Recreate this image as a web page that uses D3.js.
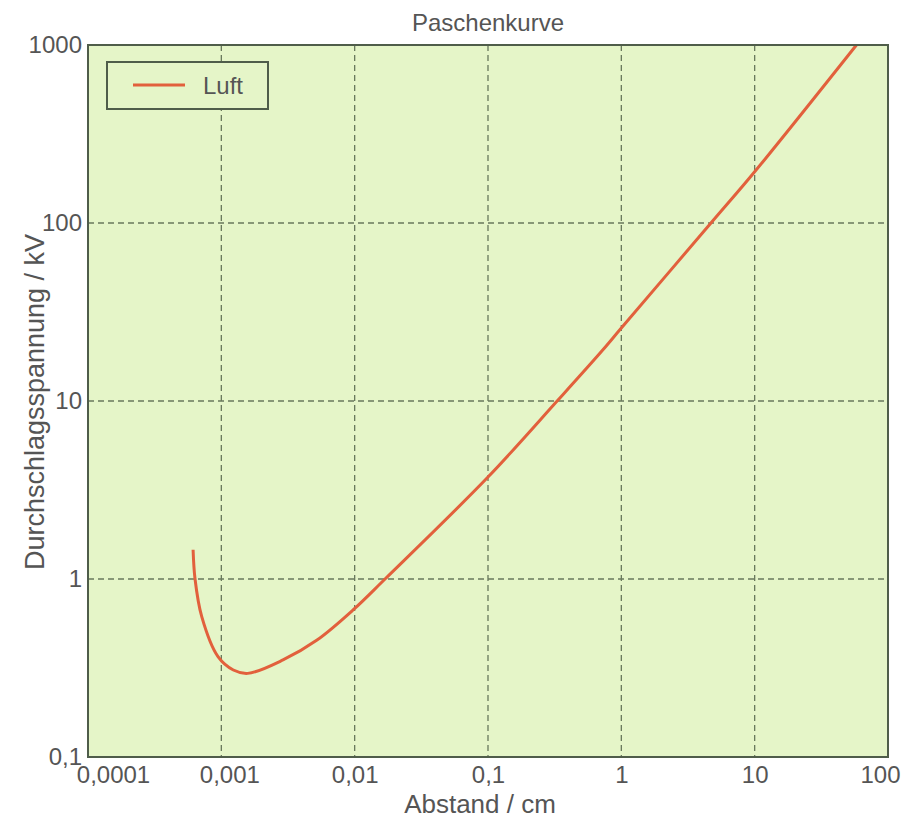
<!DOCTYPE html>
<html>
<head>
<meta charset="utf-8">
<script src="https://cdn.jsdelivr.net/npm/d3@7"></script>
<style>
  body { margin: 0; background: #fff; }
  text { font-family: "Liberation Sans", Arial, sans-serif; fill: #555; }
</style>
</head>
<body>
<div id="chart"></div>
<script>
// data
var abstand = [0.000614, 0.000635, 0.000713, 0.000944, 0.00123, 0.00158, 0.0029, 0.00522, 0.00973, 0.0169, 0.1, 0.33, 0.693, 1, 4.7, 10, 58]
var spannung = [1.46, 1.0, 0.614, 0.366, 0.308, 0.295, 0.351, 0.454, 0.67, 1.0, 3.74, 10, 18.6, 25.7, 100, 194, 1000]
var xTicks = [0.0001, 0.001, 0.01, 0.1, 1, 10, 100]
var xTickLabels = ['0,0001', '0,001', '0,01', '0,1', '1', '10', '100']
var yTicks = [0.1, 1, 10, 100, 1000]
var yTickLabels = ['0,1', '1', '10', '100', '1000']

var points = abstand.map((d, i) => ({x: d, y: spannung[i]}))

// svg dimensions
var w = 917,
    h = 832,
    pl = 88,
    pr = 888,
    pt = 45,
    pb = 757

var svg = d3.select('#chart')
    .append('svg')
    .attr('width', w)
    .attr('height', h)

// scales
var xscale = d3.scaleLog()
    .domain([0.0001, 100])
    .range([pl, pr])

var yscale = d3.scaleLog()
    .domain([0.1, 1000])
    .range([pb, pt])

// plot background
svg.append('rect')
    .attr('x', pl)
    .attr('y', pt)
    .attr('width', pr - pl)
    .attr('height', pb - pt)
    .attr('fill', '#e5f5c8')

// grid
var grid = svg.append('g')
    .attr('stroke', '#68785c')
    .attr('stroke-width', 1.3)
    .attr('stroke-dasharray', '6,4')

grid.selectAll('.vx')
    .data(xTicks.slice(1, -1))
    .enter()
    .append('line')
    .attr('x1', d => xscale(d))
    .attr('x2', d => xscale(d))
    .attr('y1', pt)
    .attr('y2', pb)

grid.selectAll('.hy')
    .data(yTicks.slice(1, -1))
    .enter()
    .append('line')
    .attr('x1', pl)
    .attr('x2', pr)
    .attr('y1', d => yscale(d))
    .attr('y2', d => yscale(d))

// axes
var xaxis = d3.axisBottom(xscale)
    .tickValues(xTicks)
    .tickFormat((d, i) => xTickLabels[i])
    .tickSize(0)
    .tickPadding(9)

var yaxis = d3.axisLeft(yscale)
    .tickValues(yTicks)
    .tickFormat((d, i) => yTickLabels[i])
    .tickSize(0)
    .tickPadding(6)

var gx = svg.append('g')
    .attr('transform', `translate(0,${pb})`)
    .call(xaxis)
gx.select('.domain').remove()
gx.selectAll('text')
    .style('font-size', '24px')
    .attr('fill', '#555')
    .attr('dx', (d, i) => i == 0 ? 25 : (i == xTicks.length - 1 ? -8 : (i == 1 ? 8 : 0)))

var gy = svg.append('g')
    .attr('transform', `translate(${pl},0)`)
    .call(yaxis)
gy.select('.domain').remove()
gy.selectAll('text')
    .style('font-size', '24px')
    .attr('fill', '#555')

// curve
var line = d3.line()
    .x(d => xscale(d.x))
    .y(d => yscale(d.y))
    .curve(d3.curveCatmullRom.alpha(0.5))

svg.append('path')
    .datum(points)
    .attr('d', line)
    .attr('fill', 'none')
    .attr('stroke', '#e2603c')
    .attr('stroke-width', 3)

// frame
svg.append('rect')
    .attr('x', pl)
    .attr('y', pt)
    .attr('width', pr - pl)
    .attr('height', pb - pt)
    .attr('fill', 'none')
    .attr('stroke', '#4f5d4a')
    .attr('stroke-width', 2)

// legend
svg.append('rect')
    .attr('x', 107)
    .attr('y', 62)
    .attr('width', 161)
    .attr('height', 47)
    .attr('fill', '#e5f5c8')
    .attr('stroke', '#4f5d4a')
    .attr('stroke-width', 2)

svg.append('line')
    .attr('x1', 133)
    .attr('x2', 185)
    .attr('y1', 85)
    .attr('y2', 85)
    .attr('stroke', '#e2603c')
    .attr('stroke-width', 3)

svg.append('text')
    .text('Luft')
    .attr('x', 203)
    .attr('y', 94)
    .style('font-size', '24px')

// titles
svg.append('text')
    .text('Paschenkurve')
    .attr('text-anchor', 'middle')
    .attr('x', 488)
    .attr('y', 31)
    .style('font-size', '24px')

svg.append('text')
    .text('Abstand / cm')
    .attr('text-anchor', 'middle')
    .attr('x', 480)
    .attr('y', 813)
    .style('font-size', '26px')

svg.append('text')
    .text('Durchschlagsspannung / kV')
    .attr('text-anchor', 'middle')
    .attr('transform', 'translate(44,402) rotate(-90)')
    .style('font-size', '27px')
</script>
</body>
</html>
